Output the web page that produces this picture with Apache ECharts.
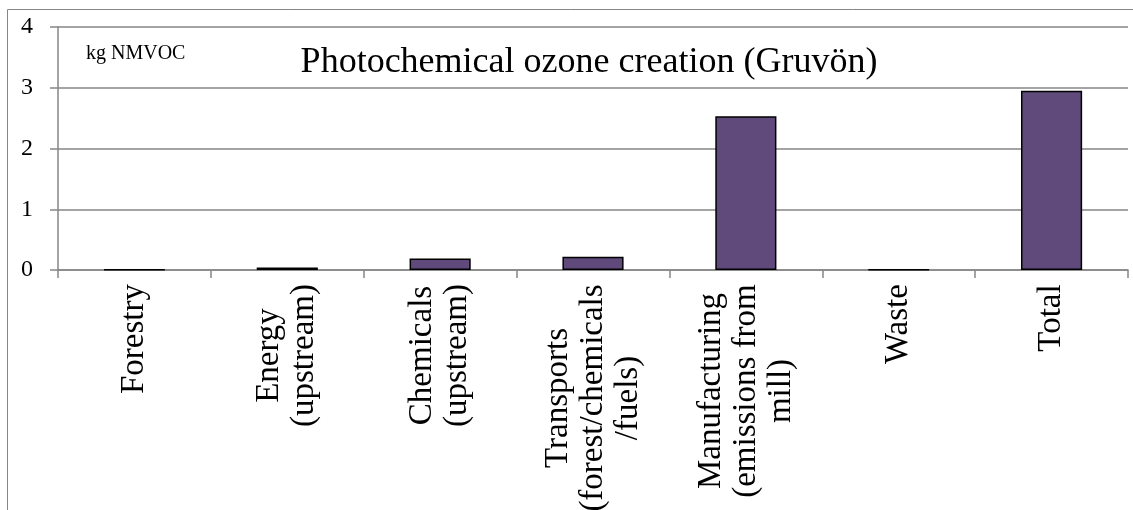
<!DOCTYPE html>
<html>
<head>
<meta charset="utf-8">
<title>Photochemical ozone creation (Gruvön)</title>
<script src="https://cdn.jsdelivr.net/npm/echarts@6/dist/echarts.min.js"></script>
<style>
  html, body { margin: 0; padding: 0; background: #fff; }
  #chart { width: 1133px; height: 510px; }
</style>
</head>
<body>
<div id="chart"></div>
<script>
  // chart data
  var categories = [
    'Forestry',
    'Energy\n(upstream)',
    'Chemicals\n(upstream)',
    'Transports\n(forest/chemicals\n/fuels)',
    'Manufacturing\n(emissions from\nmill)',
    'Waste',
    'Total'
  ]
  var values = [0.005, 0.04, 0.19, 0.22, 2.53, 0.005, 2.95]
  var unitLabel = 'kg NMVOC'
  var titleText = 'Photochemical ozone creation (Gruvön)'

  var serif = '"Liberation Serif", "Times New Roman", serif'
  var gray = '#868686'
  var labelSize = 33

  // centre the lines of each category label like Excel does:
  // one rich style per label, as wide as its longest line
  var ctx = document.createElement('canvas').getContext('2d')
  ctx.font = labelSize + 'px ' + serif
  var rich = {}
  categories.forEach(function (name, i) {
    var w = 0
    name.split('\n').forEach(function (line) {
      w = Math.max(w, ctx.measureText(line).width)
    })
    rich['c' + i] = {
      width: Math.ceil(w),
      align: 'center',
      fontFamily: serif,
      fontSize: labelSize,
      lineHeight: 35,
      color: '#000'
    }
  })

  var chart = echarts.init(document.getElementById('chart'))
  chart.setOption({
    animation: false,
    backgroundColor: '#fff',
    title: {
      text: titleText,
      left: 584,
      top: 40,
      textAlign: 'center',
      textStyle: {
        fontFamily: serif,
        fontSize: 36,
        fontWeight: 'normal',
        color: '#000'
      }
    },
    graphic: [
      {
        // outer frame (only left and top edges are visible)
        type: 'rect',
        shape: { x: 7.5, y: 9.5, width: 1300, height: 700 },
        style: { fill: 'none', stroke: gray, lineWidth: 1 },
        silent: true
      },
      {
        type: 'text',
        left: 86,
        top: 44,
        style: {
          text: unitLabel,
          font: '20px ' + serif,
          fill: '#000'
        }
      }
    ],
    grid: {
      left: 58,
      right: 5,
      top: 27,
      bottom: 240,
      containLabel: false,
      outerBoundsMode: 'none'
    },
    xAxis: {
      type: 'category',
      data: categories,
      axisLine: { lineStyle: { color: gray, width: 1.5 } },
      axisTick: { show: true, length: 8, lineStyle: { color: gray, width: 1.5 } },
      axisLabel: {
        interval: 0,
        rotate: 90,
        margin: 14,
        fontFamily: serif,
        fontSize: labelSize,
        lineHeight: 35,
        color: '#000',
        rich: rich,
        formatter: function (value, index) {
          return value.split('\n').map(function (line) {
            return '{c' + index + '|' + line + '}'
          }).join('\n')
        }
      }
    },
    yAxis: {
      type: 'value',
      min: 0,
      max: 4,
      interval: 1,
      axisLine: { show: true, lineStyle: { color: gray, width: 1.5 } },
      axisTick: { show: true, length: 8, lineStyle: { color: gray, width: 1.5 } },
      splitLine: { lineStyle: { color: gray, width: 1.5 } },
      axisLabel: {
        margin: 25,
        fontFamily: serif,
        fontSize: 24,
        color: '#000'
      }
    },
    series: [
      {
        type: 'bar',
        data: values,
        barWidth: '40%',
        itemStyle: {
          color: '#604a7b',
          borderColor: '#000',
          borderWidth: 1.5
        }
      }
    ]
  })
</script>
</body>
</html>
